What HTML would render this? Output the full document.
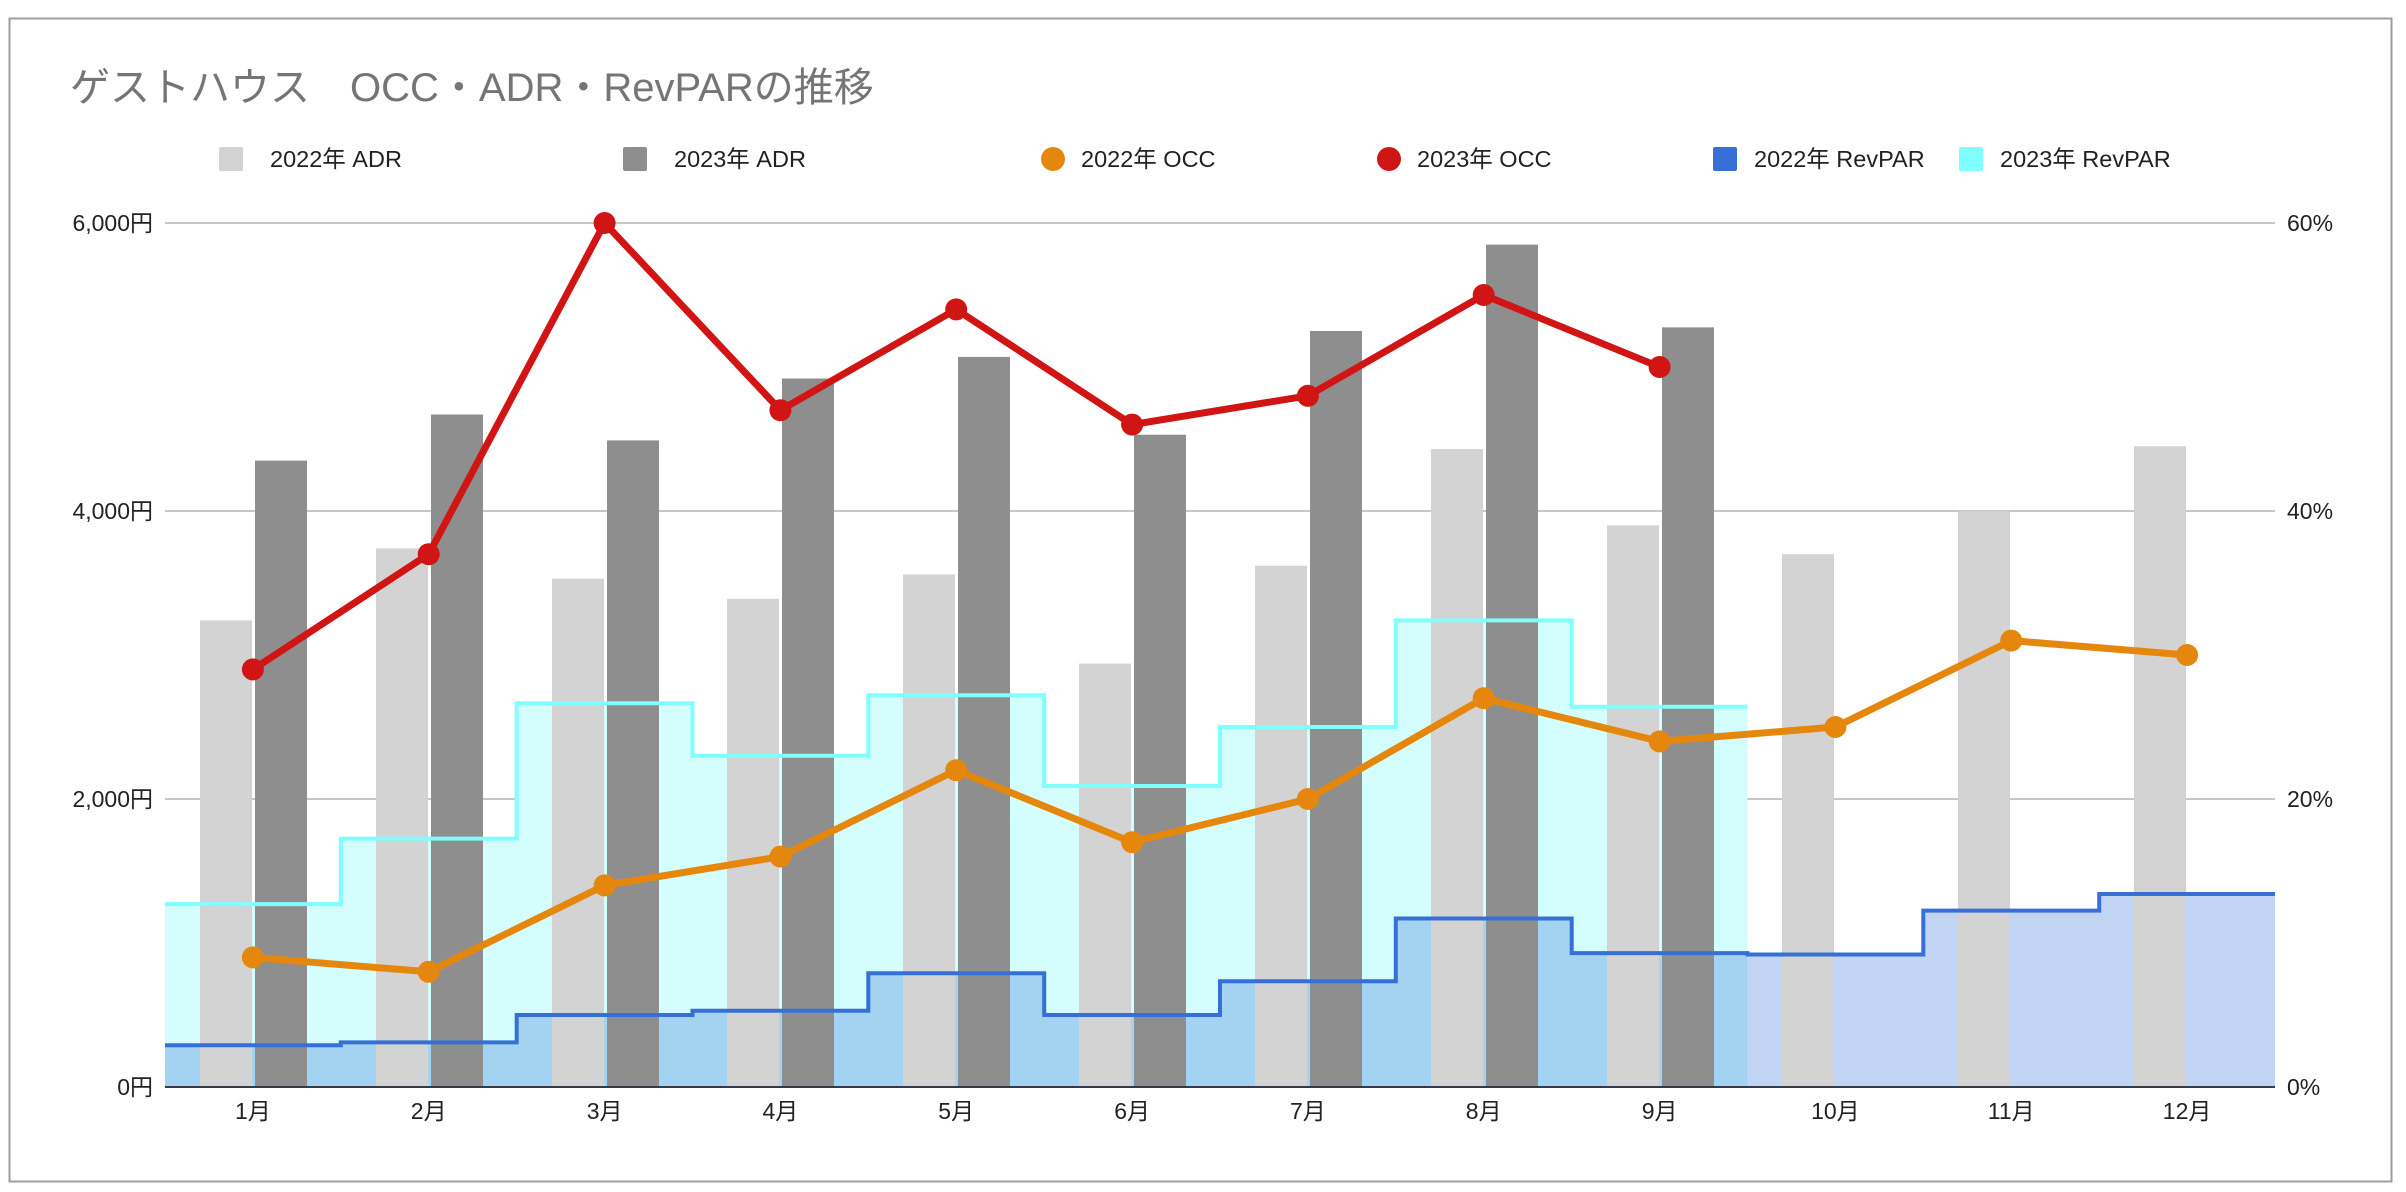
<!DOCTYPE html>
<html><head><meta charset="utf-8"><style>
html,body{margin:0;padding:0;background:#fff}
svg{display:block}
text{font-family:"Liberation Sans","Noto Sans CJK JP",sans-serif}
</style></head><body>
<svg width="2406" height="1192" viewBox="0 0 2406 1192" xmlns="http://www.w3.org/2000/svg">
<rect x="0" y="0" width="2406" height="1192" fill="#fff"/>
<rect x="9.5" y="18.5" width="2382" height="1163" fill="none" stroke="#9e9e9e" stroke-width="2"/>
<text x="70" y="101" font-size="40" fill="#757575">ゲストハウス　OCC・ADR・RevPARの推移</text>
<!-- legend -->
<g font-size="23.5" fill="#222">
<rect x="219" y="147" width="24" height="24" rx="2" fill="#d3d3d3"/><text x="270" y="167">2022年 ADR</text>
<rect x="623" y="147" width="24" height="24" rx="2" fill="#8e8e8e"/><text x="674" y="167">2023年 ADR</text>
<circle cx="1053" cy="159" r="12" fill="#e6870d"/><text x="1081" y="167">2022年 OCC</text>
<circle cx="1389" cy="159" r="12" fill="#d11414"/><text x="1417" y="167">2023年 OCC</text>
<rect x="1713" y="147" width="24" height="24" rx="2" fill="#3670d6"/><text x="1754" y="167">2022年 RevPAR</text>
<rect x="1959" y="147" width="24" height="24" rx="2" fill="#80ffff"/><text x="2000" y="167">2023年 RevPAR</text>
</g>
<!-- grid -->
<g stroke="#c8c8c8" stroke-width="2">
<line x1="165" y1="223" x2="2275" y2="223"/>
<line x1="165" y1="511" x2="2275" y2="511"/>
<line x1="165" y1="799" x2="2275" y2="799"/>
</g>
<g font-size="23" fill="#222" text-anchor="end">
<text x="153" y="231">6,000円</text>
<text x="153" y="519">4,000円</text>
<text x="153" y="807">2,000円</text>
<text x="153" y="1095">0円</text>
</g>
<g font-size="23" fill="#222">
<text x="2287" y="231">60%</text>
<text x="2287" y="519">40%</text>
<text x="2287" y="807">20%</text>
<text x="2287" y="1095">0%</text>
</g>
<!-- areas -->
<path d="M165,904.1 H340.8 V838.6 H516.7 V703.2 H692.5 V755.8 H868.3 V695.3 H1044.2 V786 H1220 V727 H1395.8 V620.4 H1571.7 V706.8 H1747.5 V1087 H165 Z" fill="#d4fefe"/>
<path d="M165,1045.2 H340.8 V1042.4 H516.7 V1015 H692.5 V1010.7 H868.3 V973.2 H1044.2 V1015 H1220 V981.2 H1395.8 V918.5 H1571.7 V953.1 H1747.5 V954.5 H1923.3 V910.6 H2099.2 V894 H2275 V1087 H165 Z" fill="#3670d6" fill-opacity="0.3"/>
<!-- bars 2022 -->
<g fill="#d3d3d3">
<rect x="200" y="620.4" width="52" height="466.6"/>
<rect x="376" y="548.4" width="52" height="538.6"/>
<rect x="552" y="578.7" width="52" height="508.3"/>
<rect x="727" y="598.8" width="52" height="488.2"/>
<rect x="903" y="574.4" width="52" height="512.6"/>
<rect x="1079" y="663.6" width="52" height="423.4"/>
<rect x="1255" y="565.7" width="52" height="521.3"/>
<rect x="1431" y="449.1" width="52" height="637.9"/>
<rect x="1607" y="525.4" width="52" height="561.6"/>
<rect x="1782" y="554.2" width="52" height="532.8"/>
<rect x="1958" y="511" width="52" height="576"/>
<rect x="2134" y="446.2" width="52" height="640.8"/>
</g>
<g fill="#8e8e8e">
<rect x="255" y="460.6" width="52" height="626.4"/>
<rect x="431" y="414.5" width="52" height="672.5"/>
<rect x="607" y="440.4" width="52" height="646.6"/>
<rect x="782" y="378.5" width="52" height="708.5"/>
<rect x="958" y="356.9" width="52" height="730.1"/>
<rect x="1134" y="434.7" width="52" height="652.3"/>
<rect x="1310" y="331" width="52" height="756"/>
<rect x="1486" y="244.6" width="52" height="842.4"/>
<rect x="1662" y="327.4" width="52" height="759.6"/>
</g>
<line x1="165" y1="1087" x2="2275" y2="1087" stroke="#333a48" stroke-width="2"/>
<!-- step lines -->
<path d="M165,904.1 H340.8 V838.6 H516.7 V703.2 H692.5 V755.8 H868.3 V695.3 H1044.2 V786 H1220 V727 H1395.8 V620.4 H1571.7 V706.8 H1747.5" fill="none" stroke="#80ffff" stroke-width="4"/>
<path d="M165,1045.2 H340.8 V1042.4 H516.7 V1015 H692.5 V1010.7 H868.3 V973.2 H1044.2 V1015 H1220 V981.2 H1395.8 V918.5 H1571.7 V953.1 H1747.5 V954.5 H1923.3 V910.6 H2099.2 V894 H2275" fill="none" stroke="#3670d6" stroke-width="4"/>
<!-- OCC lines -->
<polyline points="252.9,957.4 428.7,971.8 604.6,885.4 780.4,856.6 956.2,770.2 1132.1,842.2 1307.9,799 1483.7,698.2 1659.6,741.4 1835.4,727 2011.2,640.6 2187.1,655" fill="none" stroke="#e6870d" stroke-width="7" stroke-linejoin="round"/>
<g fill="#e6870d">
<circle cx="252.9" cy="957.4" r="11"/><circle cx="428.7" cy="971.8" r="11"/><circle cx="604.6" cy="885.4" r="11"/><circle cx="780.4" cy="856.6" r="11"/><circle cx="956.2" cy="770.2" r="11"/><circle cx="1132.1" cy="842.2" r="11"/><circle cx="1307.9" cy="799" r="11"/><circle cx="1483.7" cy="698.2" r="11"/><circle cx="1659.6" cy="741.4" r="11"/><circle cx="1835.4" cy="727" r="11"/><circle cx="2011.2" cy="640.6" r="11"/><circle cx="2187.1" cy="655" r="11"/>
</g>
<polyline points="252.9,669.4 428.7,554.2 604.6,223 780.4,410.2 956.2,309.4 1132.1,424.6 1307.9,395.8 1483.7,295 1659.6,367" fill="none" stroke="#d11414" stroke-width="7" stroke-linejoin="round"/>
<g fill="#d11414">
<circle cx="252.9" cy="669.4" r="11"/><circle cx="428.7" cy="554.2" r="11"/><circle cx="604.6" cy="223" r="11"/><circle cx="780.4" cy="410.2" r="11"/><circle cx="956.2" cy="309.4" r="11"/><circle cx="1132.1" cy="424.6" r="11"/><circle cx="1307.9" cy="395.8" r="11"/><circle cx="1483.7" cy="295" r="11"/><circle cx="1659.6" cy="367" r="11"/>
</g>
<!-- month labels -->
<g font-size="23" fill="#222" text-anchor="middle">
<text x="252.9" y="1119">1月</text><text x="428.7" y="1119">2月</text><text x="604.6" y="1119">3月</text><text x="780.4" y="1119">4月</text><text x="956.2" y="1119">5月</text><text x="1132.1" y="1119">6月</text><text x="1307.9" y="1119">7月</text><text x="1483.7" y="1119">8月</text><text x="1659.6" y="1119">9月</text><text x="1835.4" y="1119">10月</text><text x="2011.2" y="1119">11月</text><text x="2187.1" y="1119">12月</text>
</g>
</svg>
</body></html>
